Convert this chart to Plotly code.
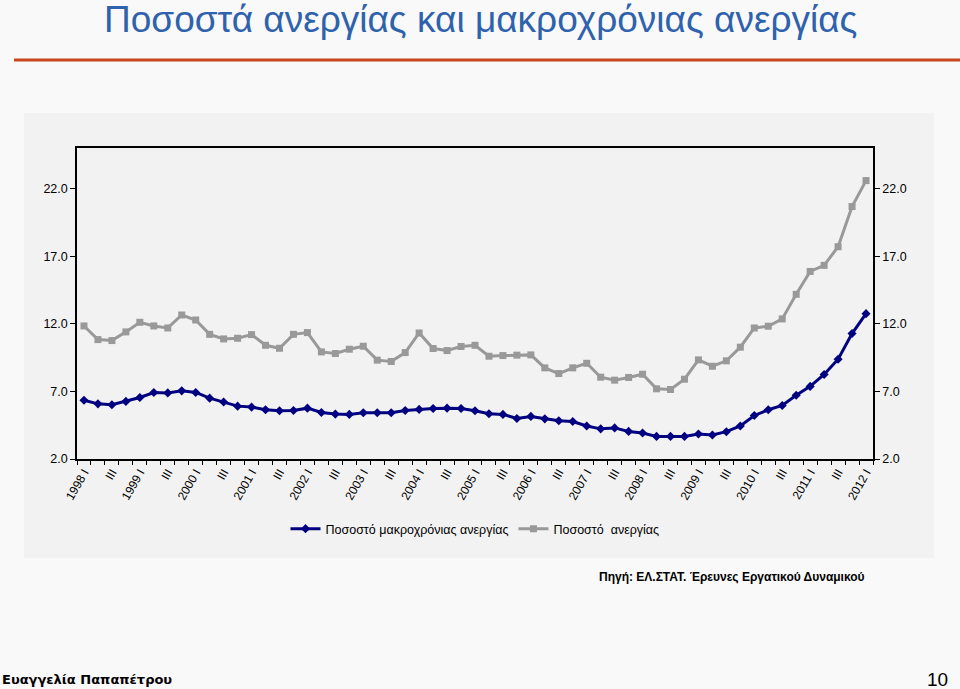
import plotly.graph_objects as go

years = list(range(1998, 2013))
roman = ["I", "II", "III", "IV"]
quarters = [f"{y} {r}" for y in years for r in roman][:57]   # 1998 I .. 2012 I

unemployment = [11.84, 10.83, 10.76, 11.40, 12.11, 11.84, 11.69, 12.65, 12.28, 11.22,
                10.88, 10.93, 11.20, 10.41, 10.19, 11.22, 11.35, 9.92, 9.80, 10.12,
                10.34, 9.31, 9.21, 9.87, 11.32, 10.17, 10.02, 10.32, 10.41, 9.60,
                9.65, 9.68, 9.70, 8.74, 8.32, 8.74, 9.08, 8.05, 7.83, 8.03,
                8.27, 7.19, 7.14, 7.90, 9.33, 8.86, 9.26, 10.27, 11.69, 11.82,
                12.36, 14.18, 15.87, 16.32, 17.70, 20.67, 22.59]

long_term = [6.35, 6.08, 6.01, 6.26, 6.55, 6.92, 6.89, 7.04, 6.92, 6.50,
             6.21, 5.91, 5.84, 5.64, 5.57, 5.59, 5.76, 5.44, 5.32, 5.30,
             5.42, 5.42, 5.42, 5.59, 5.67, 5.74, 5.76, 5.74, 5.57, 5.35,
             5.30, 5.00, 5.15, 4.97, 4.83, 4.77, 4.44, 4.23, 4.30, 4.04,
             3.92, 3.67, 3.67, 3.67, 3.85, 3.77, 4.02, 4.44, 5.22, 5.64,
             5.96, 6.72, 7.37, 8.25, 9.38, 11.28, 12.75]

tick_text = [q if q.endswith(" I") else ("III" if q.endswith(" III") else "") for q in quarters]
y_ticks = [2, 7, 12, 17, 22]
y_tick_text = ["2.0", "7.0", "12.0", "17.0", "22.0"]

# pixel geometry helpers (plot area: x 77..873, y 148..459)
L, R, T, B = 77, 873, 148, 459
W, H = 960, 689
def px(p): return (p - L) / (R - L)
def py(p): return (B - p) / (B - T)

fig = go.Figure()
fig.add_trace(go.Scatter(
    x=quarters, y=long_term, name="Ποσοστό μακροχρόνιας ανεργίας",
    mode="lines+markers",
    line=dict(color="#000080", width=3),
    marker=dict(symbol="diamond", size=7, color="#000080"),
))
fig.add_trace(go.Scatter(
    x=quarters, y=unemployment, name="Ποσοστό  ανεργίας",
    mode="lines+markers", yaxis="y2",
    line=dict(color="#999999", width=3),
    marker=dict(symbol="square", size=7, color="#999999"),
))

axis_font = dict(family="Liberation Sans, Arial, sans-serif", size=12, color="#000000")
fig.update_layout(
    width=W, height=H,
    margin=dict(l=L, r=W - R, t=T, b=H - B),
    paper_bgcolor="#f9f9f9",
    plot_bgcolor="#f2f2f2",
    font=axis_font,
    showlegend=True,
    legend=dict(orientation="h", x=0.5, xanchor="center", y=py(529), yanchor="middle",
                font=dict(family="Liberation Sans, Arial, sans-serif", size=12.5),
                bgcolor="rgba(0,0,0,0)", itemwidth=30),
    xaxis=dict(type="category", categoryorder="array", categoryarray=quarters,
               tickmode="array", tickvals=quarters, ticktext=tick_text,
               tickangle=-60, tickson="boundaries", ticks="outside", ticklen=4,
               tickcolor="#000000", showline=True, linecolor="#000000", linewidth=1.5,
               mirror=True, showgrid=False, zeroline=False,
               tickfont=dict(family="Liberation Sans, Arial, sans-serif", size=12),
               range=[-0.5, 56.5]),
    yaxis=dict(range=[2, 25], tickmode="array", tickvals=y_ticks, ticktext=y_tick_text,
               ticks="outside", ticklen=5, tickcolor="#000000", showline=True,
               linecolor="#000000", linewidth=1.5, showgrid=False, zeroline=False,
               tickfont=dict(size=12.5)),
    yaxis2=dict(range=[2, 25], tickmode="array", tickvals=y_ticks, ticktext=y_tick_text,
                overlaying="y", side="right", ticks="outside", ticklen=5,
                tickcolor="#000000", showline=True, linecolor="#000000", linewidth=1.5,
                showgrid=False, zeroline=False, tickfont=dict(size=12.5)),
)

shapes = [
    # chart box
    dict(type="rect", xref="paper", yref="paper", x0=px(24), x1=px(934), y0=py(558), y1=py(113),
         fillcolor="#f2f2f2", line=dict(width=0), layer="below"),
    # orange rule under title
    dict(type="line", xref="paper", yref="paper", x0=px(14), x1=px(960), y0=py(60), y1=py(60),
         line=dict(color="#c9471d", width=3)),
]
fig.update_layout(shapes=shapes)

annotations = [
    dict(text="Ποσοστά ανεργίας και μακροχρόνιας ανεργίας", xref="paper", yref="paper",
         x=px(480), y=py(20), xanchor="center", yanchor="middle", showarrow=False,
         font=dict(family="Liberation Sans, Arial, sans-serif", size=37, color="#2f62ac")),
    dict(text="<b>Πηγή: ΕΛ.ΣΤΑΤ. Έρευνες Εργατικού Δυναμικού</b>", xref="paper", yref="paper",
         x=px(597), y=py(577), xanchor="left", yanchor="middle", showarrow=False,
         font=dict(family="Liberation Sans, Arial, sans-serif", size=12, color="#000000")),
    dict(text="<b>Ευαγγελία Παπαπέτρου</b>", xref="paper", yref="paper",
         x=px(0), y=py(679), xanchor="left", yanchor="middle", showarrow=False,
         font=dict(family="DejaVu Sans, Verdana, sans-serif", size=13, color="#000000")),
    dict(text="10", xref="paper", yref="paper",
         x=px(950), y=py(679), xanchor="right", yanchor="middle", showarrow=False,
         font=dict(family="Liberation Sans, Arial, sans-serif", size=19, color="#000000")),
]
fig.update_layout(annotations=annotations)

fig.write_html("out.html", config={"displayModeBar": False},
               post_script="document.body.style.margin='0px';")
